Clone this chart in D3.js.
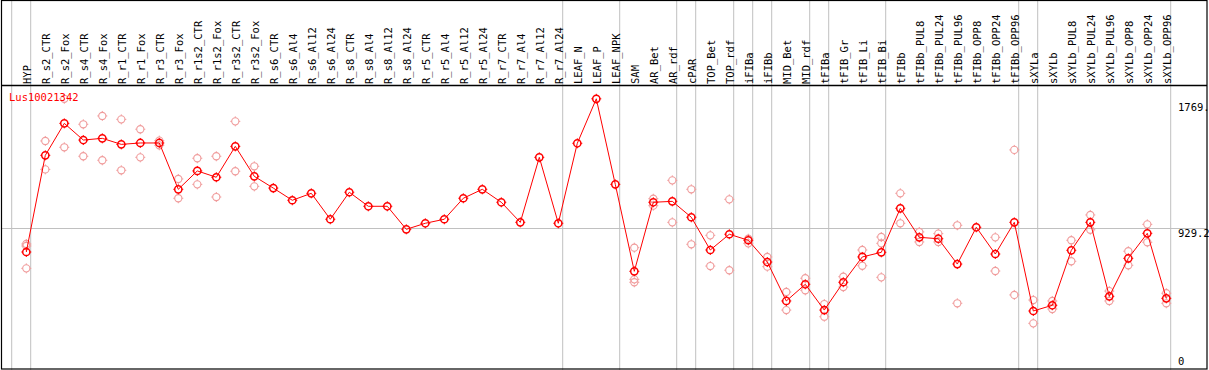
<!DOCTYPE html>
<html>
<head>
<meta charset="utf-8">
<script src="https://cdn.jsdelivr.net/npm/d3@7"></script>
<style>
body { margin: 0; background: #fff; }
text { font-family: "DejaVu Sans Mono", monospace; font-size: 10.5px; }
</style>
</head>
<body>
<div id="chart"></div>
<script>
// categories (column labels)
var categories = ["HYP","R_s2_CTR","R_s2_Fox","R_s4_CTR","R_s4_Fox","R_r1_CTR","R_r1_Fox","R_r3_CTR","R_r3_Fox",
  "R_r1s2_CTR","R_r1s2_Fox","R_r3s2_CTR","R_r3s2_Fox","R_s6_CTR","R_s6_Al4","R_s6_Al12","R_s6_Al24",
  "R_s8_CTR","R_s8_Al4","R_s8_Al12","R_s8_Al24","R_r5_CTR","R_r5_Al4","R_r5_Al12","R_r5_Al24",
  "R_r7_CTR","R_r7_Al4","R_r7_Al12","R_r7_Al24","LEAF_N","LEAF_P","LEAF_NPK","SAM","AR_Bet","AR_rdf",
  "cPAR","TOP_Bet","TOP_rdf","iFIBa","iFIBb","MID_Bet","MID_rdf","tFIBa","tFIB_Gr","tFIB_Li","tFIB_Bi",
  "tFIBb","tFIBb_PUL8","tFIBb_PUL24","tFIBb_PUL96","tFIBb_OPP8","tFIBb_OPP24","tFIBb_OPP96",
  "sXYLa","sXYLb","sXYLb_PUL8","sXYLb_PUL24","sXYLb_PUL96","sXYLb_OPP8","sXYLb_OPP24","sXYLb_OPP96"];

// mean expression per category
var means = [777,1403,1610,1502,1513,1474,1483,1483,1183,
  1302,1261,1461,1267,1191,1112,1157,989,
  1164,1073,1073,924,963,989,1125,1183,
  1099,969,1390,963,1481,1769,1215,652,1099,1105,
  1002,790,892,853,712,460,568,401,581,745,775,
  1060,872,863,699,937,764,969,
  395,432,788,969,490,736,898,477];

// replicate values per category (empty where only the mean is shown)
var replicates = [[829,816,671],[1496,1312],[1769,1455],[1604,1397],[1658,1371],[1636,1306],[1572,1390],[1498,1468],[1250,1125],
  [1384,1215],[1397,1133],[1623,1300],[1332,1202],[],[],[],[],
  [],[],[],[],[],[],[],[],
  [],[],[],[],[],[],[],[805,600,581],[1122,1077],[1241,969],
  [1183,827],[885,686],[1118,659],[863,833],[745,682],[518,401],[607,529],[440,358],[617,550],[790,688],[874,833,613],
  [1157,963],[907,842],[896,842],[950,445],[],[872,654],[1438,499],
  [466,315],[460,408],[853,717],[1017,921],[524,460],[782,691],[956,840],[510,445]];

// group separators: drawn after these category indices
var separators = [-1,0,28,31,34,35,37,38,39,41,42,45,52,53,60];

// y axis labels
var yTicks = [1769, 929.2, 0];
var yTickText = ["1769.", "929.2", "0"];
var geneName = "Lus10021342";
var yMax = 1858.4;

var W = 1209, H = 370;
var svg = d3.select("#chart").append("svg").attr("width", W).attr("height", H);

var x = d3.scalePoint().domain(d3.range(-1, categories.length)).range([7.3, 26.3 + 19 * (categories.length - 1)]);
var y = d3.scaleLinear().domain([0, yMax]).range([372, 85]);

// separators
svg.selectAll("line.sep").data(separators).enter().append("line")
  .attr("x1", function(d){ return x(d) + 4.4; }).attr("x2", function(d){ return x(d) + 4.4; })
  .attr("y1", 0).attr("y2", H)
  .attr("stroke", "#c0c0c0").attr("stroke-width", 1);

// midline
svg.append("line").attr("x1", 1).attr("x2", 1207)
  .attr("y1", y(929.2)).attr("y2", y(929.2))
  .attr("stroke", "#c0c0c0").attr("stroke-width", 1);

// frame
svg.append("rect").attr("x", 1.5).attr("y", 0.5).attr("width", 1205.5).attr("height", 368.5)
  .attr("fill", "none").attr("stroke", "#000").attr("stroke-width", 1.2);
svg.append("line").attr("x1", 1).attr("x2", 1207).attr("y1", 85.5).attr("y2", 85.5)
  .attr("stroke", "#000").attr("stroke-width", 1.4);

// column labels
svg.selectAll("text.cat").data(categories).enter().append("text")
  .attr("class", "cat")
  .attr("transform", function(d, i){ return "translate(" + (x(i) + 4.2) + ",84) rotate(-90)"; })
  .text(function(d){ return d; });

function marker(g, cx, cy, color, sw){
  g.append("circle").attr("cx", cx).attr("cy", cy).attr("r", 3.6)
    .attr("fill", "none").attr("stroke", color).attr("stroke-width", sw);
  [[0,-1],[0,1],[-1,0],[1,0]].forEach(function(t){
    g.append("line")
      .attr("x1", cx + t[0] * 3.6).attr("y1", cy + t[1] * 3.6)
      .attr("x2", cx + t[0] * 5).attr("y2", cy + t[1] * 5)
      .attr("stroke", color).attr("stroke-width", 1);
  });
}

// replicates
var rg = svg.append("g");
replicates.forEach(function(r, i){
  r.forEach(function(v){ marker(rg, x(i), y(v), "#f09c9c", 1.1); });
});

// mean line
var line = d3.line().x(function(d, i){ return x(i); }).y(function(d){ return y(d); });
svg.append("path").datum(means).attr("d", line)
  .attr("fill", "none").attr("stroke", "#ff0000").attr("stroke-width", 1);

var mg = svg.append("g");
means.forEach(function(v, i){ marker(mg, x(i), y(v), "#ff0000", 1.5); });

// gene name
svg.append("text").attr("x", 9).attr("y", 101).attr("fill", "#ff0000").text(geneName);

// y labels
var dys = [12, 8, -7];
svg.selectAll("text.yt").data(yTicks).enter().append("text")
  .attr("x", 1178).attr("y", function(d, i){ return y(d) + dys[i]; })
  .text(function(d, i){ return yTickText[i]; });
</script>
</body>
</html>
